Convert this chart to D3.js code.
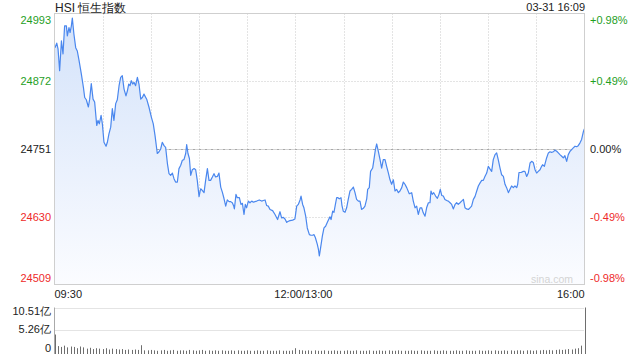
<!DOCTYPE html>
<html><head><meta charset="utf-8">
<script src="https://cdn.jsdelivr.net/npm/d3@7"></script>
<style>
html,body{margin:0;padding:0;background:#fff;}
svg{display:block;font-family:"Liberation Sans",Arial,sans-serif;}
</style></head>
<body><svg id="c" width="640" height="360"></svg>
<script>
// ---- data ----
const title = "HSI 恒生指数";
const stamp = "03-31 16:09";
const prevClose = 24751;
const priceTicks = [24509, 24630, 24751, 24872, 24993];
const pctTicks = ["-0.98%", "-0.49%", "0.00%", "+0.49%", "+0.98%"];
const xTickMinutes = [0, 150, 330];
const xTickLabels = ["09:30", "12:00/13:00", "16:00"];
// minutes since 09:30 (lunch break removed)
const minutes = [0.3,1.4,2.2,3.2,4.3,5.3,6.3,7.4,8.0,9.0,9.7,10.5,11.1,12.1,13.2,14.2,15.3,16.7,18.0,18.8,19.8,21.1,21.9,22.9,24.0,25.0,26.3,27.1,27.9,29.0,29.8,30.8,32.1,32.9,33.9,35.0,36.0,37.0,38.1,39.1,40.2,41.2,42.2,43.3,44.5,45.4,46.2,47.0,47.8,48.7,49.5,50.5,51.6,52.6,53.7,54.7,55.7,57.4,58.8,60.3,61.5,62.6,64.0,65.1,66.1,67.1,68.2,69.2,70.3,71.3,72.3,73.4,74.4,75.4,76.5,77.5,78.6,79.6,80.6,81.7,82.3,83.1,84.0,84.8,85.8,86.9,87.9,88.9,90.0,91.0,92.0,93.1,94.1,95.2,96.2,97.2,98.3,99.3,100.3,101.4,102.4,103.5,104.5,105.5,106.6,107.6,108.7,109.7,110.7,111.6,112.0,113.0,113.8,115.1,116.1,117.0,118.0,118.8,119.6,120.7,121.7,122.8,123.8,125.9,127.5,129.0,130.0,131.1,132.1,133.1,134.2,135.8,137.3,138.9,140.4,141.4,142.5,143.5,144.6,145.6,146.6,148.3,149.7,150.8,151.8,152.9,153.5,154.5,155.3,156.4,157.4,158.7,159.7,160.7,161.6,162.4,163.6,164.3,164.9,165.7,166.8,167.8,168.8,169.9,170.7,171.5,172.2,173.2,174.0,174.9,175.7,176.5,177.3,178.4,179.0,179.8,180.9,181.9,182.9,184.0,185.0,186.1,187.1,188.1,189.2,190.2,191.2,192.3,193.3,194.4,195.0,196.0,196.8,198.1,198.9,199.8,200.6,201.6,202.7,203.7,204.7,205.8,206.8,207.9,208.9,209.9,211.0,212.0,213.0,214.1,215.1,216.2,217.2,218.2,219.3,220.9,222.4,223.4,224.5,225.5,226.5,227.6,228.6,229.6,230.7,231.7,232.8,233.8,234.4,235.2,236.1,237.3,238.4,239.4,240.2,241.1,242.1,243.1,244.2,245.2,246.3,247.3,248.3,249.4,250.4,251.4,252.5,253.5,254.6,255.6,256.6,257.7,258.7,259.7,260.8,261.8,262.9,263.9,264.9,266.0,267.0,268.0,269.1,270.1,271.2,272.2,273.2,274.3,275.3,276.3,277.4,278.4,279.5,280.5,281.5,282.6,283.6,284.6,285.7,286.7,287.8,288.4,289.2,290.5,291.9,292.9,294.0,295.0,296.1,297.1,298.1,299.2,300.2,301.2,302.3,303.3,303.9,305.0,306.4,307.5,308.5,309.5,310.6,311.6,312.7,313.7,314.7,315.8,316.8,317.8,318.9,319.9,321.0,322.0,323.0,324.1,325.1,326.1,327.2,328.2,329.3,329.9];
const prices = [24932,24940,24930,24891,24944,24921,24971,24971,24953,24968,24959,24971,24985,24956,24932,24926,24909,24885,24861,24843,24839,24826,24840,24868,24840,24835,24793,24802,24796,24811,24796,24763,24756,24763,24778,24790,24823,24802,24832,24839,24864,24879,24882,24858,24846,24855,24867,24864,24873,24867,24870,24864,24879,24867,24840,24843,24849,24840,24826,24808,24796,24775,24743,24746,24751,24763,24757,24754,24725,24707,24704,24708,24698,24692,24692,24716,24722,24731,24732,24743,24759,24743,24734,24704,24714,24716,24714,24695,24666,24680,24677,24673,24695,24716,24695,24695,24701,24707,24701,24702,24708,24683,24674,24663,24649,24660,24657,24657,24655,24649,24644,24670,24664,24664,24652,24654,24634,24652,24646,24658,24655,24658,24656,24658,24660,24658,24659,24660,24650,24649,24643,24641,24634,24625,24639,24628,24629,24626,24620,24622,24623,24624,24626,24649,24652,24660,24667,24652,24646,24631,24610,24598,24597,24597,24598,24593,24581,24572,24560,24575,24596,24610,24613,24620,24625,24630,24625,24640,24638,24652,24664,24664,24662,24664,24650,24640,24638,24646,24661,24676,24679,24683,24673,24661,24658,24658,24643,24645,24649,24662,24679,24682,24711,24717,24732,24750,24760,24747,24732,24717,24732,24732,24720,24708,24696,24688,24696,24676,24679,24673,24676,24682,24692,24688,24682,24671,24673,24658,24646,24649,24634,24646,24646,24637,24631,24646,24655,24655,24676,24670,24673,24667,24663,24670,24679,24668,24667,24661,24659,24658,24655,24652,24644,24652,24655,24652,24655,24658,24661,24646,24644,24643,24646,24649,24661,24666,24676,24685,24690,24695,24695,24702,24708,24720,24715,24711,24732,24741,24744,24732,24717,24705,24702,24688,24682,24673,24679,24685,24682,24685,24682,24688,24709,24709,24711,24711,24702,24708,24726,24729,24727,24714,24708,24711,24714,24720,24723,24720,24735,24744,24746,24745,24746,24749,24747,24744,24741,24738,24735,24739,24729,24741,24747,24750,24753,24756,24755,24757,24762,24768,24782,24787];
// volume (亿), every 2 minutes + closing auction
const volTicks = [0, 5.26, 10.51];
const volTickLabels = ["0", "5.26亿", "10.51亿"];
const volMinutes = d3.range(0, 330, 2).concat([330]);
const volValues = [
  4.2,
  1.5,1.3,1.6,1.2,1.4,1.3,1.0,1.4,1.2,0.9,
  1.1,0.8,1.0,0.9,0.8,1.0,0.7,0.9,0.8,0.7,
  0.8,0.6,0.7,0.6,0.7,0.6,1.7,
  0.5,
  0.5,0.6,0.5,0.4,0.5,0.6,0.4,0.5,0.6,0.4,0.5,0.5,0.4,0.6,0.5,0.4,0.5,0.6,0.4,0.5,0.4,0.5,
  0.4,0.5,0.4,0.4,0.5,0.4,0.5,0.4,0.4,0.5,0.4,0.4,0.5,0.4,0.4,0.5,0.4,0.4,0.4,0.5,0.4,0.4,0.4,0.5,
  1.0,
  0.6,0.5,0.4,0.5,0.4,0.5,0.4,0.4,0.5,0.4,0.4,0.5,0.4,0.4,0.4,0.5,0.4,0.4,0.5,0.4,0.4,0.4,0.5,0.4,0.4,
  0.5,0.4,0.4,0.5,0.4,0.4,0.5,0.4,0.4,0.4,0.5,0.4,0.4,0.5,0.4,0.4,0.4,0.5,0.4,0.4,0.5,0.4,0.4,0.4,0.5,
  0.4,0.4,0.5,0.4,0.4,0.4,0.5,0.4,0.4,0.5,0.4,0.5,0.4,0.4,0.5,0.4,0.5,0.4,0.5,0.5,0.4,0.5,0.5,0.4,0.5,
  0.5,0.6,0.5,0.6,0.5,0.6,0.7,0.6,0.7,0.8,0.7,0.9,1.0,1.6,
  10.51];

// ---- layout ----
const svg = d3.select("#c");
const L = 54.5, R = 584.5, T = 13.5, B = 284.5;
const VT = 307.5, VB = 352.5;
const green = "#1fa01f", red = "#ee2a2a", dark = "#222";

const x = d3.scaleLinear().domain([0, 330]).range([L, R]);
const y = d3.scaleLinear().domain([24509, 24993]).range([B, T]);
const yv = d3.scaleLinear().domain([0, 10.51]).range([VB, VT]);

const defs = svg.append("defs");
const grad = defs.append("linearGradient").attr("id", "g")
  .attr("gradientUnits", "userSpaceOnUse").attr("x1", 0).attr("x2", 0).attr("y1", T).attr("y2", B);
grad.append("stop").attr("offset", 0).attr("stop-color", "#d3e2fa");
grad.append("stop").attr("offset", 1).attr("stop-color", "#fbfcff");

// grid
const gridX = d3.range(30, 330, 30);
svg.append("g").selectAll("line").data(gridX).join("line")
  .attr("x1", d => Math.round(x(d)) + 0.5).attr("x2", d => Math.round(x(d)) + 0.5)
  .attr("y1", T).attr("y2", B).attr("stroke", "#c8c8c8").attr("stroke-dasharray", "1,2");
svg.append("g").selectAll("line").data(priceTicks.slice(1, 4)).join("line")
  .attr("x1", L).attr("x2", R)
  .attr("y1", d => Math.round(y(d)) + 0.5).attr("y2", d => Math.round(y(d)) + 0.5)
  .attr("stroke", d => d === prevClose ? "#a8a8a8" : "#c8c8c8")
  .attr("stroke-dasharray", d => d === prevClose ? "3,1,1,1" : "1,2");

// area + line
const data = minutes.map((m, i) => ({ m, p: prices[i] }));
svg.append("path").datum(data)
  .attr("d", d3.area().x(d => x(d.m)).y0(B).y1(d => y(d.p)))
  .attr("fill", "url(#g)");
svg.append("path").datum(data)
  .attr("d", d3.line().x(d => x(d.m)).y(d => y(d.p)))
  .attr("fill", "none").attr("stroke", "#4a87ee").attr("stroke-width", 1.2).attr("stroke-linejoin", "round");

// frame
svg.append("rect").attr("x", L).attr("y", T).attr("width", R - L).attr("height", B - T)
  .attr("fill", "none").attr("stroke", "#cfcfcf");

// watermark
svg.append("text").attr("x", 552).attr("y", 283).attr("text-anchor", "middle")
  .attr("font-size", 10.5).attr("fill", "#d4d4d4").text("sina.com");

// y labels left / right
const colorFor = (i) => i < 2 ? red : (i === 2 ? dark : green);
const yLabelY = (d, i) => i === 0 ? B - 3 : (i === 4 ? T + 10.5 : y(d) + 4);
svg.append("g").selectAll("text").data(priceTicks).join("text")
  .attr("x", 51).attr("y", yLabelY).attr("text-anchor", "end")
  .attr("font-size", 11).attr("fill", (d, i) => colorFor(i)).text(d => d);
svg.append("g").selectAll("text").data(priceTicks).join("text")
  .attr("x", 590).attr("y", yLabelY)
  .attr("font-size", 11).attr("fill", (d, i) => colorFor(i)).text((d, i) => pctTicks[i]);

// x labels
svg.append("g").selectAll("text").data(xTickMinutes).join("text")
  .attr("x", (d, i) => i === 1 ? x(d) + 8 : x(d))
  .attr("y", 297.5)
  .attr("text-anchor", (d, i) => i === 0 ? "start" : (i === 1 ? "middle" : "end"))
  .attr("font-size", 11).attr("fill", dark).text((d, i) => xTickLabels[i]);

// title
svg.append("text").attr("x", 55).attr("y", 12).attr("font-size", 12).attr("fill", "#222").text(title);
svg.append("text").attr("x", 585).attr("y", 11).attr("text-anchor", "end").attr("font-size", 11).attr("fill", "#222").text(stamp);

// volume panel
svg.append("g").selectAll("line").data(volTicks.slice(1)).join("line")
  .attr("x1", L).attr("x2", R)
  .attr("y1", d => Math.round(yv(d)) + 0.5).attr("y2", d => Math.round(yv(d)) + 0.5)
  .attr("stroke", "#c8c8c8").attr("stroke-dasharray", "1,1");
svg.append("line").attr("x1", L).attr("x2", L).attr("y1", VT).attr("y2", VB + 1.5).attr("stroke", "#aaa");
svg.append("g").selectAll("line").data(volMinutes).join("line")
  .attr("x1", d => Math.round(x(d)) + 0.5).attr("x2", d => Math.round(x(d)) + 0.5)
  .attr("y1", VB + 1.5).attr("y2", (d, i) => yv(volValues[i]))
  .attr("stroke", "#6e6e6e").attr("stroke-width", 1);
const volLabelY = [351.5, 332.5, 315];
svg.append("g").selectAll("text").data(volTicks).join("text")
  .attr("x", 51).attr("y", (d, i) => volLabelY[i]).attr("text-anchor", "end")
  .attr("font-size", 11).attr("fill", dark).text((d, i) => volTickLabels[i]);
</script></body></html>
